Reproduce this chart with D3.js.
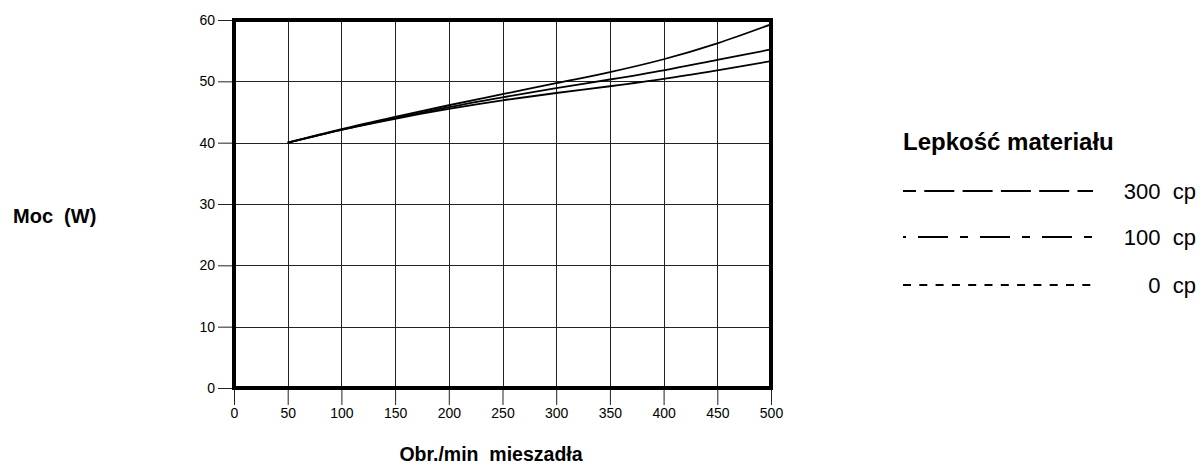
<!DOCTYPE html>
<html>
<head>
<meta charset="utf-8">
<script src="https://cdn.jsdelivr.net/npm/d3@7"></script>
<style>
  body { margin: 0; background: #fff; }
  svg text { font-family: "Liberation Sans", Arial, sans-serif; fill: #000; white-space: pre; }
</style>
</head>
<body>
<svg id="chart" width="1201" height="465"></svg>
<script>
// chart data
var rpm = [50, 100, 150, 200, 250, 300, 350, 400, 450, 500];
var power300 = [40, 42.2, 44.2, 46.1, 47.9, 49.7, 51.5, 53.6, 56.2, 59.3];
var power100 = [40, 42.1, 44.0, 45.8, 47.4, 48.9, 50.3, 51.8, 53.5, 55.2];
var power0 = [40, 42.1, 43.9, 45.5, 46.9, 48.1, 49.2, 50.4, 51.8, 53.3];
var xTicks = [0, 50, 100, 150, 200, 250, 300, 350, 400, 450, 500];
var yTicks = [0, 10, 20, 30, 40, 50, 60];
var seriesNames = ["300  cp", "100  cp", "0  cp"];

var svg = d3.select("#chart");

// plot box in pixels (note: "top" is taken by window.top)
var plotLeft = 234, plotRight = 771, plotTop = 20, plotBottom = 388;

var x = d3.scaleLinear().domain([0, 500]).range([plotLeft, plotRight]);
var y = d3.scaleLinear().domain([0, 60]).range([plotBottom, plotTop]);

// grid lines
var grid = svg.append("g").attr("stroke", "#222").attr("stroke-width", 1).attr("shape-rendering", "crispEdges");
grid.selectAll("line.v").data(xTicks).enter().append("line")
  .attr("class", "v")
  .attr("x1", function(d) { return Math.round(x(d)) + 0.5; })
  .attr("x2", function(d) { return Math.round(x(d)) + 0.5; })
  .attr("y1", plotTop).attr("y2", plotBottom);
grid.selectAll("line.h").data(yTicks).enter().append("line")
  .attr("class", "h")
  .attr("y1", function(d) { return Math.round(y(d)) + 0.5; })
  .attr("y2", function(d) { return Math.round(y(d)) + 0.5; })
  .attr("x1", plotLeft).attr("x2", plotRight);

// axes with outside ticks
var yAxis = svg.append("g")
  .attr("transform", "translate(" + plotLeft + ",0)")
  .call(d3.axisLeft(y).tickValues(yTicks).tickSize(16).tickPadding(3));
var xAxis = svg.append("g")
  .attr("transform", "translate(0," + plotBottom + ")")
  .call(d3.axisBottom(x).tickValues(xTicks).tickSize(17).tickPadding(3));

[yAxis, xAxis].forEach(function(a) {
  a.select(".domain").remove();
  a.selectAll(".tick line").attr("stroke", "#222");
  a.selectAll(".tick text")
    .style("font-family", '"Liberation Sans", Arial, sans-serif')
    .style("font-size", "14px")
    .attr("fill", "#000");
});

// curves
var line = d3.line()
  .x(function(d, i) { return x(rpm[i]); })
  .y(function(d) { return y(d); })
  .curve(d3.curveCatmullRom);

svg.append("g").selectAll("path")
  .data([power300, power100, power0])
  .enter().append("path")
  .attr("d", line)
  .attr("fill", "none")
  .attr("stroke", "#000")
  .attr("stroke-width", 1.8);

// thick frame
svg.append("rect")
  .attr("x", plotLeft).attr("y", plotTop)
  .attr("width", plotRight - plotLeft).attr("height", plotBottom - plotTop)
  .attr("fill", "none").attr("stroke", "#000").attr("stroke-width", 4);

// axis titles
svg.append("text")
  .attr("x", 13).attr("y", 223)
  .style("font-size", "20px").style("font-weight", "bold")
  .text("Moc  (W)");

svg.append("text")
  .attr("x", 491).attr("y", 461)
  .attr("text-anchor", "middle")
  .style("font-size", "19.5px").style("font-weight", "bold")
  .text("Obr./min  mieszadła");

// legend
var legend = svg.append("g");
legend.append("text")
  .attr("x", 903).attr("y", 150)
  .style("font-size", "24px").style("font-weight", "bold")
  .text("Lepkość materiału");

var dashes = [
  { dash: "30,8.3", offset: 17 },
  { dash: "30,12,8,12", offset: 47 },
  { dash: "8,8.3", offset: 0 }
];
var rowY = [191, 237, 285];

legend.selectAll("line.key").data(seriesNames).enter().append("line")
  .attr("class", "key")
  .attr("x1", 903).attr("x2", 1093)
  .attr("y1", function(d, i) { return rowY[i]; })
  .attr("y2", function(d, i) { return rowY[i]; })
  .attr("stroke", "#000").attr("stroke-width", 2)
  .attr("stroke-dasharray", function(d, i) { return dashes[i].dash; })
  .attr("stroke-dashoffset", function(d, i) { return dashes[i].offset; });

legend.selectAll("text.key").data(seriesNames).enter().append("text")
  .attr("class", "key")
  .attr("x", 1196)
  .attr("y", function(d, i) { return rowY[i] + 8; })
  .attr("text-anchor", "end")
  .style("font-size", "22px")
  .text(function(d) { return d; });
</script>
</body>
</html>
